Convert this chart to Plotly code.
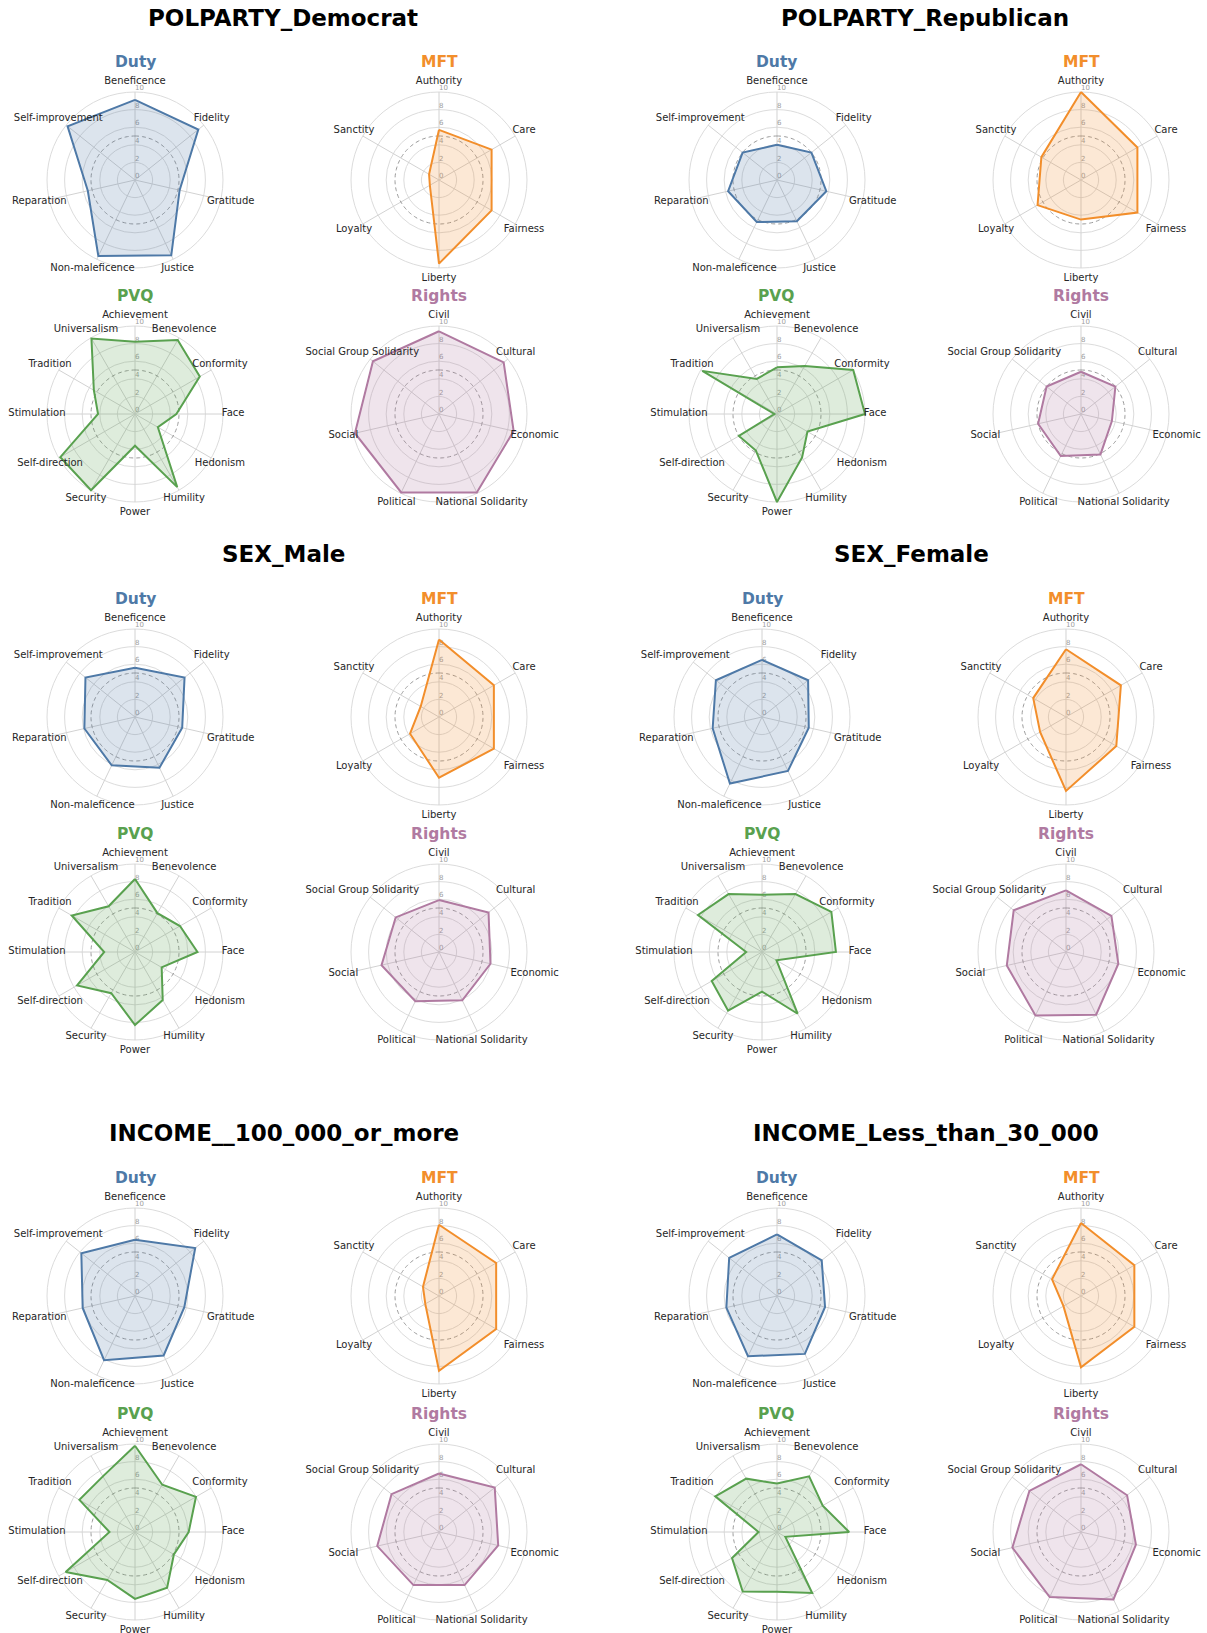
import numpy as np
import plotly.graph_objects as go

# ---------------- data ----------------
GROUPS = ["POLPARTY_Democrat", "POLPARTY_Republican", "SEX_Male", "SEX_Female",
          "INCOME__100_000_or_more", "INCOME_Less_than_30_000"]

DUTY_LABELS = ["Beneficence", "Fidelity", "Gratitude", "Justice", "Non-maleficence",
               "Reparation", "Self-improvement"]
MFT_LABELS = ["Authority", "Care", "Fairness", "Liberty", "Loyalty", "Sanctity"]
PVQ_LABELS = ["Achievement", "Benevolence", "Conformity", "Face", "Hedonism", "Humility",
              "Power", "Security", "Self-direction", "Stimulation", "Tradition", "Universalism"]
RIGHTS_LABELS = ["Civil", "Cultural", "Economic", "National Solidarity", "Political",
                 "Social", "Social Group Solidarity"]

# one row per group, same order as GROUPS
DUTY_VALUES = [
    [9.1, 9.2, 5.2, 9.5, 9.6, 5.5, 9.8],
    [4.0, 5.0, 5.75, 5.2, 5.3, 5.7, 5.0],
    [5.6, 7.2, 5.5, 6.4, 6.1, 5.9, 7.2],
    [6.5, 6.7, 5.45, 6.8, 8.4, 5.75, 6.7],
    [6.4, 8.75, 5.75, 7.5, 8.1, 6.1, 7.8],
    [7.0, 6.5, 5.6, 7.3, 7.6, 5.9, 6.95],
]
MFT_VALUES = [
    [5.7, 6.9, 6.9, 9.5, 1.2, 1.3],
    [10.0, 7.4, 7.4, 4.5, 5.7, 5.2],
    [8.8, 7.2, 7.2, 6.9, 3.8, 2.4],
    [7.7, 7.2, 6.6, 8.4, 3.4, 4.3],
    [8.1, 7.5, 7.5, 8.5, 1.8, 2.1],
    [8.3, 7.0, 7.0, 8.1, 2.3, 3.8],
]
PVQ_VALUES = [
    [8.2, 9.7, 8.5, 4.7, 3.0, 9.6, 3.6, 10.0, 9.8, 4.2, 5.4, 9.9],
    [5.3, 6.3, 10.0, 10.0, 4.0, 5.7, 10.0, 4.8, 5.0, 0.3, 9.8, 4.6],
    [8.3, 5.1, 5.9, 7.1, 3.5, 6.3, 8.3, 5.4, 7.6, 3.5, 8.3, 6.0],
    [6.5, 7.6, 9.1, 8.4, 1.9, 8.1, 4.5, 7.7, 6.6, 1.8, 8.4, 7.6],
    [9.8, 6.2, 8.0, 6.1, 5.1, 7.3, 7.6, 6.3, 9.1, 2.9, 7.3, 7.3],
    [5.5, 7.3, 6.0, 8.2, 1.1, 8.0, 6.8, 7.8, 5.9, 2.1, 8.1, 7.0],
]
RIGHTS_VALUES = [
    [9.4, 9.4, 8.7, 9.9, 9.9, 9.8, 9.6],
    [4.8, 5.0, 3.6, 5.1, 5.3, 5.0, 5.0],
    [5.9, 7.2, 6.0, 6.1, 6.2, 6.7, 6.3],
    [7.0, 6.6, 6.1, 7.9, 8.0, 6.9, 7.6],
    [6.65, 8.1, 6.9, 6.7, 6.7, 7.2, 6.9],
    [7.7, 6.7, 6.4, 8.5, 8.2, 8.0, 7.5],
]

RADIAL_TICKS = [0, 2, 4, 6, 8, 10]
MIDPOINT = 5

# ---------------- styling / layout ----------------
W, H = 1207, 1633
FONT = "DejaVu Sans"
FAMILIES = [
    ("Duty", DUTY_LABELS, DUTY_VALUES, "#4e79a7", "rgba(78,121,167,0.2)"),
    ("MFT", MFT_LABELS, MFT_VALUES, "#f28e2b", "rgba(242,142,43,0.2)"),
    ("PVQ", PVQ_LABELS, PVQ_VALUES, "#59a14f", "rgba(89,161,79,0.2)"),
    ("Rights", RIGHTS_LABELS, RIGHTS_VALUES, "#b07aa1", "rgba(176,122,161,0.2)"),
]

# group placement in pixels: (left centre x, right centre x, top centre y, bottom centre y, title x, title y)
GROUP_POS = [
    (135, 439, 180, 414, 283, 18),
    (777, 1081, 180, 414, 925, 18),
    (135, 439, 717, 952, 283, 554),
    (762, 1066, 717, 952, 911, 554),
    (135, 439, 1296, 1532, 284, 1133),
    (777, 1081, 1296, 1532, 926, 1133),
]
R_PX = 88          # pixel radius of the value-10 ring
RANGE_MAX = 11.4   # radial range kept beyond 10 so that category labels fit inside the axis
R_DOM = R_PX * RANGE_MAX / RADIAL_TICKS[-1]
SUB_DY = 118       # subtitle offset above chart centre
LABEL_R = 11.15    # radial position of category labels (axis units)

fig = go.Figure()
layout_updates = {}
annotations = []
k = 0
for g, name in enumerate(GROUPS):
    lx, rx, ty, by, tx, tyt = GROUP_POS[g]
    annotations.append(dict(text=f"<b>{name}</b>", x=tx / W, y=1 - tyt / H, xref="paper", yref="paper",
                            showarrow=False, font=dict(family=FONT, size=23, color="black"),
                            xanchor="center", yanchor="middle"))
    centres = [(lx, ty), (rx, ty), (lx, by), (rx, by)]
    for f, (fname, labels, values, color, fill) in enumerate(FAMILIES):
        k += 1
        pid = "polar" if k == 1 else f"polar{k}"
        cx, cy = centres[f]
        n = len(labels)
        angles = [i * 360.0 / n for i in range(n)]
        vals = values[g]
        # spokes from the centre to the outer (value 10) ring
        sp_r, sp_t = [], []
        for a in angles:
            sp_r += [0, RADIAL_TICKS[-1], None]
            sp_t += [a, a, None]
        fig.add_trace(go.Scatterpolar(r=sp_r, theta=sp_t, mode="lines",
                                      line=dict(color="#d2d2d2", width=1),
                                      hoverinfo="skip", showlegend=False, subplot=pid))
        # dashed reference circle at the scale midpoint
        circ_t = np.linspace(0, 360, 181)
        fig.add_trace(go.Scatterpolar(r=[MIDPOINT] * len(circ_t), theta=circ_t, mode="lines",
                                      line=dict(color="#9a9a9a", width=1, dash="4px,3px"),
                                      hoverinfo="skip", showlegend=False, subplot=pid))
        # radial tick labels along the top spoke
        fig.add_trace(go.Scatterpolar(r=RADIAL_TICKS, theta=[0] * len(RADIAL_TICKS), mode="text",
                                      text=[str(t) for t in RADIAL_TICKS], textposition="top right",
                                      textfont=dict(family=FONT, size=7, color="#a0a0a0"),
                                      cliponaxis=False, hoverinfo="skip", showlegend=False, subplot=pid))
        fig.add_trace(go.Scatterpolar(r=vals + [vals[0]], theta=angles + [angles[0]], mode="lines",
                                      fill="toself", fillcolor=fill,
                                      line=dict(color=color, width=2),
                                      name=f"{name} {fname}", showlegend=False, subplot=pid))
        # category labels centred just outside the outer ring
        fig.add_trace(go.Scatterpolar(r=[LABEL_R] * n, theta=angles, mode="text", text=labels,
                                      textposition="middle center",
                                      textfont=dict(family=FONT, size=10, color="#262626"),
                                      cliponaxis=False, hoverinfo="skip", showlegend=False, subplot=pid))
        layout_updates[pid] = dict(
            domain=dict(x=[(cx - R_DOM) / W, (cx + R_DOM) / W], y=[1 - (cy + R_DOM) / H, 1 - (cy - R_DOM) / H]),
            bgcolor="rgba(0,0,0,0)",
            angularaxis=dict(type="linear", thetaunit="degrees", rotation=90, direction="clockwise",
                             tickmode="array", tickvals=angles, showticklabels=False,
                             showgrid=False, showline=False, ticks=""),
            radialaxis=dict(range=[0, RANGE_MAX], tickvals=RADIAL_TICKS[1:], showticklabels=False,
                            showgrid=True, gridcolor="#dcdcdc", gridwidth=1,
                            showline=False, ticks=""),
        )
        annotations.append(dict(text=f"<b>{fname}</b>", x=cx / W, y=1 - (cy - SUB_DY) / H,
                                xref="paper", yref="paper", showarrow=False,
                                font=dict(family=FONT, size=15.5, color=color),
                                xanchor="center", yanchor="middle"))

fig.update_layout(**layout_updates)
fig.update_layout(width=W, height=H, margin=dict(l=0, r=0, t=0, b=0),
                  paper_bgcolor="white", plot_bgcolor="white",
                  annotations=annotations, font=dict(family=FONT))
fig.write_html("out.html", config={"displayModeBar": False},
               post_script="document.body.style.margin='0px';document.body.style.overflow='hidden';")
